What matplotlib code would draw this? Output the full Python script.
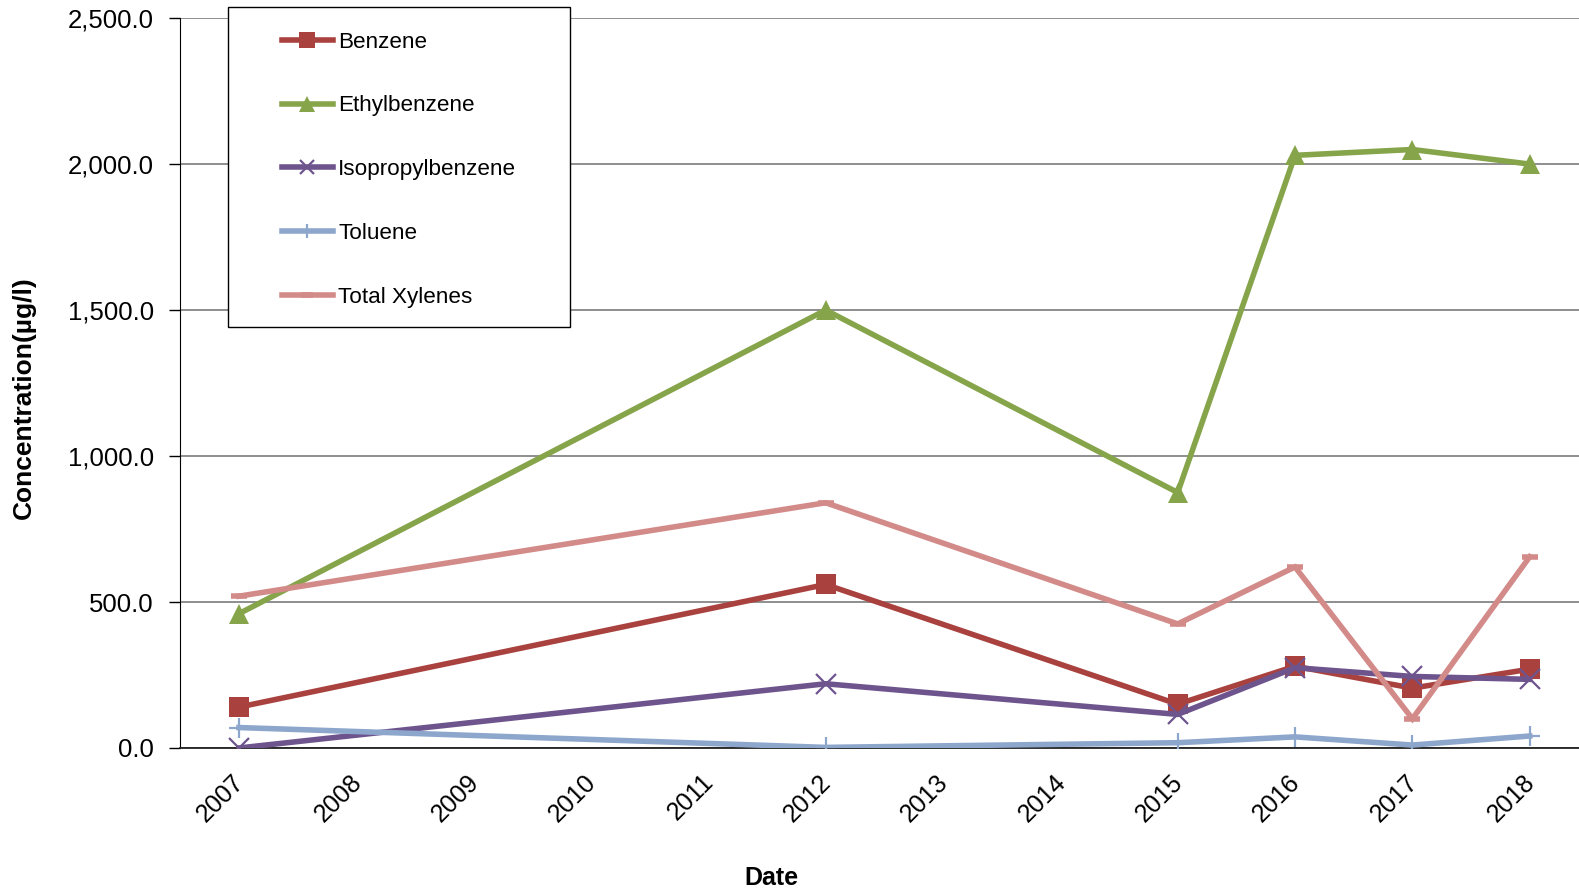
import matplotlib
matplotlib.use("Agg")
import matplotlib.pyplot as plt
from matplotlib.patches import Rectangle
from matplotlib.ticker import FuncFormatter, MultipleLocator
from matplotlib.transforms import ScaledTranslation

plt.rcParams['font.family'] = ['Liberation Sans', 'DejaVu Sans']

years = [2007, 2012, 2015, 2016, 2017, 2018]
tick_years = list(range(2007, 2019))

benzene = [140, 560, 150, 280, 205, 270]
ethylbenzene = [460, 1500, 875, 2030, 2050, 2000]
isopropylbenzene = [0, 220, 115, 275, 245, 235]
toluene = [70, 2, 18, 38, 10, 41]
total_xylenes = [520, 840, 425, 620, 100, 655]

series = [
    ("Benzene", benzene, "#A9423F", dict(marker="s", markersize=14.5, mew=0)),
    ("Ethylbenzene", ethylbenzene, "#86A44A", dict(marker="^", markersize=15, mew=0)),
    ("Isopropylbenzene", isopropylbenzene, "#6E548D", dict(marker="x", markersize=14, mew=1.6)),
    ("Toluene", toluene, "#8DA6CC", dict(marker="+", markersize=14, mew=1.6)),
    ("Total Xylenes", total_xylenes, "#D38B89", dict(marker="_", markersize=11, mew=4)),
]

fig = plt.figure(figsize=(15.79, 8.93), dpi=100)
ax = fig.add_axes([0.1142, 0.1624, 1.0 - 0.1142, 0.9797 - 0.1624])

handles = []
for name, vals, color, mk in series:
    h, = ax.plot(years, vals, color=color, lw=4.0, label=name,
                 solid_joinstyle="miter", zorder=3, **mk)
    handles.append(h)

ax.set_xlim(2006.5, 2018.42)
ax.set_ylim(0, 2500)
ax.yaxis.set_major_locator(MultipleLocator(500))
ax.yaxis.set_major_formatter(FuncFormatter(lambda v, p: f"{v:,.1f}"))
ax.set_xticks(tick_years)
ax.set_xticklabels([str(y) for y in tick_years], rotation=45, ha="right",
                   va="top", rotation_mode="anchor", fontsize=18)
ax.tick_params(axis="x", length=0, pad=10)
ax.tick_params(axis="y", length=8, width=1, color="black", labelsize=18.5, pad=11)

# nudge the rotated year labels down and to the left
shift = ScaledTranslation(-7 / 100, -8 / 100, fig.dpi_scale_trans)
for lbl in ax.get_xticklabels():
    lbl.set_transform(lbl.get_transform() + shift)

ax.grid(axis="y", color="#868686", lw=1.3, zorder=0)
ax.set_axisbelow(True)
for s in ("top", "right"):
    ax.spines[s].set_visible(False)
ax.spines["left"].set_color("black")
ax.spines["bottom"].set_color("#222222")
ax.spines["bottom"].set_linewidth(1.3)

fig.text(766 / 1568, 1 - 872 / 887, "Date", fontsize=18, fontweight="bold",
         ha="center", va="center")
fig.text(24 / 1568, 1 - 395 / 887, "Concentration(µg/l)", fontsize=19,
         fontweight="bold", rotation=90, ha="center", va="center")

# legend box drawn separately so its padding can differ by direction
box_l, box_r = 226 / 1568, 566 / 1568
box_t, box_b = 1 - 7 / 887, 1 - 325 / 887
fig.patches.append(Rectangle((box_l, box_b), box_r - box_l, box_t - box_b,
                             transform=fig.transFigure, facecolor="white",
                             edgecolor="black", lw=1.0, zorder=5))
leg = fig.legend(handles, [h.get_label() for h in handles], loc="center",
                 bbox_to_anchor=((box_l + box_r) / 2 + 0.5 / 1568, 1 - 168.5 / 887),
                 frameon=False, fontsize=16.2, numpoints=1, handlelength=2.25,
                 handletextpad=0.25, labelspacing=1.9, markerscale=0.75)
leg.set_zorder(6)

fig.savefig("out.png", dpi=100)
